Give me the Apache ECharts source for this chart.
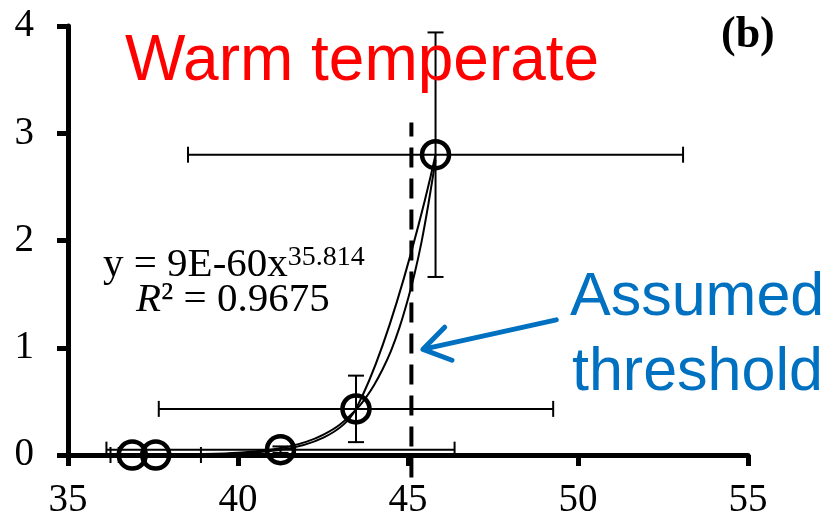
<!DOCTYPE html>
<html>
<head>
<meta charset="utf-8">
<script src="https://cdn.jsdelivr.net/npm/echarts@6/dist/echarts.min.js"></script>
<style>
html,body{margin:0;padding:0;background:#fff;}
#chart{width:839px;height:521px;}
</style>
</head>
<body>
<div id="chart"></div>
<script>
// ---- data ----
var ptX   = [36.89, 37.58, 41.25, 43.47, 45.81];
var ptY   = [0.00, 0.00, 0.05, 0.43, 2.80];
var xErr  = [0.40, 1.33, 5.12, 5.80, 7.28];
var yErr  = [0.00, 0.00, 0.03, 0.31, 1.14];
// power trendline y = 9E-60 x^35.814
var trendX = [36.89, 38, 39, 40, 41, 41.5, 42, 42.5, 43, 43.5, 43.75, 44, 44.25, 44.5, 44.75, 45, 45.2, 45.4, 45.6, 45.81];
var trendY = [0.0012, 0.0034, 0.0087, 0.021, 0.052, 0.080, 0.122, 0.188, 0.285, 0.432, 0.530, 0.651, 0.797, 0.971, 1.19, 1.455, 1.70, 1.99, 2.34, 2.75];
// assumed threshold (dashed vertical)
var thresholdX = 45.1;
var thresholdYRange = [-0.21, 3.10];
// arrow annotation (tail -> tip, data coords)
var arrowTail = [49.36, 1.26];
var arrowTip  = [45.44, 0.985];
var xTicks = [35, 40, 45, 50, 55];
var yTicks = [0, 1, 2, 3, 4];

var serif = '"Liberation Serif","Times New Roman",serif';
var sans  = '"Liberation Sans",Arial,sans-serif';

var chart = echarts.init(document.getElementById('chart'), null, {renderer:'canvas'});

var pts = ptX.map(function(x,i){return [x, ptY[i]];});
var errData = ptX.map(function(x,i){return [x, ptY[i], xErr[i], yErr[i]];});
var trend = trendX.map(function(x,i){return [x, trendY[i]];});

var option = {
  animation: false,
  backgroundColor: '#fff',
  grid: {left: 68, right: 91, top: 26, bottom: 66},
  xAxis: {
    type: 'value', min: xTicks[0], max: xTicks[xTicks.length-1], interval: 5,
    axisLine: {show: true, onZero: false, lineStyle: {color: '#000', width: 5}},
    axisTick: {show: true, inside: false, length: 11, lineStyle: {color: '#000', width: 5}},
    axisLabel: {color: '#000', fontFamily: serif, fontSize: 39, margin: 26},
    splitLine: {show: false}
  },
  yAxis: {
    type: 'value', min: yTicks[0], max: yTicks[yTicks.length-1], interval: 1,
    axisLine: {show: true, onZero: false, lineStyle: {color: '#000', width: 5}},
    axisTick: {show: true, inside: false, length: 11, lineStyle: {color: '#000', width: 5}},
    axisLabel: {color: '#000', fontFamily: serif, fontSize: 39, margin: 34},
    splitLine: {show: false}
  },
  series: [
    {
      type: 'custom',
      name: 'errors',
      clip: false,
      z: 3,
      data: errData,
      renderItem: function(params, api){
        var x = api.value(0), y = api.value(1), ex = api.value(2), ey = api.value(3);
        var c = api.coord([x, y]);
        var l = api.coord([x-ex, y]), r = api.coord([x+ex, y]);
        var t = api.coord([x, y+ey]), b = api.coord([x, y-ey]);
        var cap = 8;
        var st = {stroke:'#000', lineWidth: 2};
        var ch = [
          {type:'line', shape:{x1:l[0],y1:c[1],x2:r[0],y2:c[1]}, style:st},
          {type:'line', shape:{x1:l[0],y1:c[1]-cap,x2:l[0],y2:c[1]+cap}, style:st},
          {type:'line', shape:{x1:r[0],y1:c[1]-cap,x2:r[0],y2:c[1]+cap}, style:st}
        ];
        if (ey > 0) {
          ch.push({type:'line', shape:{x1:c[0],y1:t[1],x2:c[0],y2:b[1]}, style:st});
          ch.push({type:'line', shape:{x1:c[0]-cap,y1:t[1],x2:c[0]+cap,y2:t[1]}, style:st});
          ch.push({type:'line', shape:{x1:c[0]-cap,y1:b[1],x2:c[0]+cap,y2:b[1]}, style:st});
        }
        return {type:'group', children: ch};
      }
    },
    {
      type: 'line',
      name: 'trend',
      data: trend,
      smooth: 0.2,
      symbol: 'none',
      z: 4,
      lineStyle: {color: '#000', width: 2}
    },
    {
      type: 'line',
      name: 'data',
      data: pts,
      symbol: 'circle',
      symbolSize: 27,
      smooth: 0.35,
      z: 5,
      lineStyle: {color: '#000', width: 2},
      itemStyle: {color: 'rgba(0,0,0,0)', borderColor: '#000', borderWidth: 4.5}
    },
    {
      type: 'line',
      name: 'threshold',
      data: [[thresholdX, thresholdYRange[0]], [thresholdX, thresholdYRange[1]]],
      symbol: 'none',
      clip: false,
      z: 6,
      lineStyle: {color: '#000', width: 4, type: [20, 11]}
    },
    {
      type: 'custom',
      name: 'arrow',
      clip: false,
      z: 7,
      data: [[arrowTail[0], arrowTail[1], arrowTip[0], arrowTip[1]]],
      renderItem: function(params, api){
        var a = api.coord([api.value(0), api.value(1)]);
        var b = api.coord([api.value(2), api.value(3)]);
        var dx = a[0]-b[0], dy = a[1]-b[1];
        var len = Math.sqrt(dx*dx+dy*dy); dx/=len; dy/=len;
        var hl = 31, ang = 33*Math.PI/180;
        var cs = Math.cos(ang), sn = Math.sin(ang);
        var h1 = [b[0] + hl*(dx*cs - dy*sn), b[1] + hl*(dx*sn + dy*cs)];
        var h2 = [b[0] + hl*(dx*cs + dy*sn), b[1] + hl*(-dx*sn + dy*cs)];
        var st = {stroke:'#0070C0', lineWidth: 5, lineCap:'round', lineJoin:'round', fill: null};
        return {type:'group', children:[
          {type:'line', shape:{x1:a[0],y1:a[1],x2:b[0]+2*dx,y2:b[1]+2*dy}, style:st},
          {type:'polyline', shape:{points:[h1, b, h2]}, style:st}
        ]};
      }
    }
  ],
  graphic: [
    {type:'text', x:125, y:62, z:10, style:{text:'Warm temperate', fill:'#FF0000', font:'64px '+sans, verticalAlign:'middle', align:'left'}},
    {type:'text', x:570, y:298, z:10, style:{text:'Assumed', fill:'#0070C0', font:'61px '+sans, verticalAlign:'middle', align:'left'}},
    {type:'text', x:572, y:373, z:10, style:{text:'threshold', fill:'#0070C0', font:'61px '+sans, verticalAlign:'middle', align:'left'}},
    {type:'text', x:103, y:265, z:10, style:{text:'{a|y = 9E-60x}{s|35.814}', verticalAlign:'middle', align:'left',
       rich:{a:{font:'41px '+serif, fill:'#000', verticalAlign:'bottom'}, s:{font:'28px '+serif, fill:'#000', verticalAlign:'top', padding:[0,0,14,0]}}}},
    {type:'text', x:136, y:300, z:10, style:{text:'{i|R}{n|² = 0.9675}', verticalAlign:'middle', align:'left',
       rich:{i:{font:'italic 41px '+serif, fill:'#000'}, n:{font:'41px '+serif, fill:'#000'}}}},
    {type:'text', x:721, y:36, z:10, style:{text:'(b)', fill:'#000', font:'bold 44px '+serif, verticalAlign:'middle', align:'left'}}
  ]
};
chart.setOption(option);
</script>
</body>
</html>
